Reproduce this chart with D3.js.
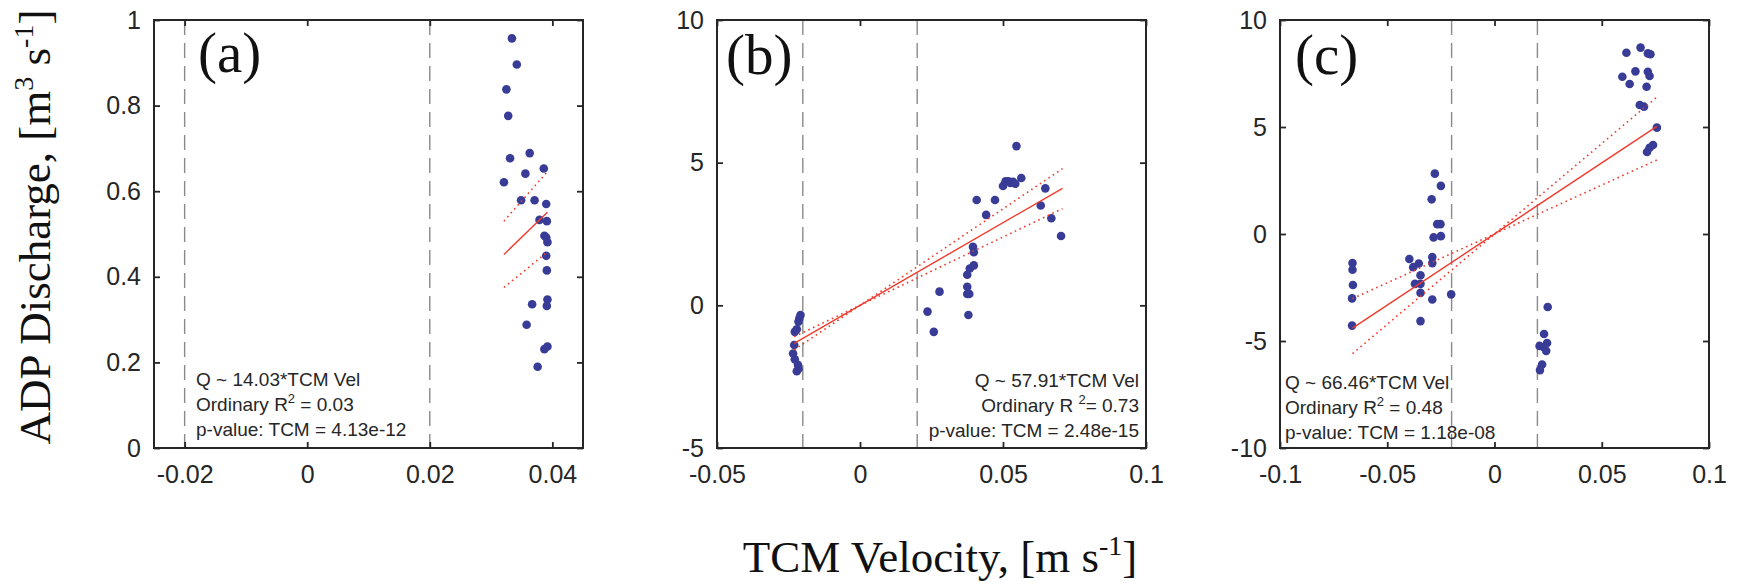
<!DOCTYPE html>
<html>
<head>
<meta charset="utf-8">
<script src="https://cdn.jsdelivr.net/npm/d3@7"></script>
<style>
  html, body { margin: 0; padding: 0; background: #ffffff; }
  svg { display: block; }
  .tick-text { font-family: "Liberation Sans", Arial, sans-serif; font-size: 25px; fill: #262626; }
  .stat-text { font-family: "Liberation Sans", Arial, sans-serif; font-size: 19px; fill: #262626; }
  .panel-label { font-family: "Liberation Serif", "Times New Roman", serif; font-size: 57px; fill: #111; }
  .axis-title { font-family: "Liberation Serif", "Times New Roman", serif; font-size: 45px; fill: #111; }
</style>
</head>
<body>
<div id="chart"></div>
<script>
// ---- data ----
const panelNames = ["(a)", "(b)", "(c)"];

const xTicksA = [-0.02, 0, 0.02, 0.04];
const yTicksA = [0, 0.2, 0.4, 0.6, 0.8, 1];
const xTicksB = [-0.05, 0, 0.05, 0.1];
const yTicksB = [-5, 0, 5, 10];
const xTicksC = [-0.1, -0.05, 0, 0.05, 0.1];
const yTicksC = [-10, -5, 0, 5, 10];

const xDomainA = [-0.025, 0.045];
const yDomainA = [0, 1];
const xDomainB = [-0.05, 0.1];
const yDomainB = [-5, 10];
const xDomainC = [-0.1, 0.1];
const yDomainC = [-10, 10];

// dashed reference velocities
const guideVelocities = [-0.02, 0.02];

// [TCM velocity, ADP discharge]
const pointsA = [
  [0.0334, 0.957], [0.0342, 0.896], [0.0325, 0.838], [0.0328, 0.776], [0.0331, 0.677],
  [0.0363, 0.689], [0.0356, 0.641], [0.0386, 0.653], [0.0321, 0.621], [0.0349, 0.579],
  [0.0371, 0.579], [0.0390, 0.570], [0.0379, 0.533], [0.0391, 0.530], [0.0387, 0.496],
  [0.0390, 0.492], [0.0392, 0.481], [0.0390, 0.449], [0.0391, 0.415], [0.0392, 0.347],
  [0.0391, 0.332], [0.0367, 0.336], [0.0358, 0.288], [0.0392, 0.237], [0.0387, 0.231],
  [0.0376, 0.190]
];

const pointsB = [
  [-0.0208, -0.34], [-0.0212, -0.45], [-0.0215, -0.57], [-0.0221, -0.84], [-0.0228, -0.93],
  [-0.0230, -1.39], [-0.0234, -1.69], [-0.0228, -1.89], [-0.0217, -2.08], [-0.0215, -2.22],
  [-0.0221, -2.31],
  [0.0236, -0.22], [0.0258, -0.93], [0.0278, 0.48], [0.0375, 1.07], [0.0375, 0.65],
  [0.0375, 0.40], [0.0382, 0.40], [0.0379, -0.34], [0.0384, 1.29], [0.0398, 1.40],
  [0.0395, 2.05], [0.0398, 1.86], [0.0408, 3.69], [0.0441, 3.17], [0.0472, 3.69],
  [0.0500, 4.18], [0.0509, 4.35], [0.0519, 4.35], [0.0526, 4.29], [0.0535, 4.33],
  [0.0543, 4.26], [0.0547, 5.58], [0.0564, 4.46], [0.0632, 3.50], [0.0648, 4.10],
  [0.0669, 3.05], [0.0703, 2.43]
];

const pointsC = [
  [-0.0662, -1.36], [-0.0662, -1.67], [-0.0660, -2.38], [-0.0664, -3.01], [-0.0664, -4.28],
  [-0.0397, -1.17], [-0.0379, -1.55], [-0.0353, -1.38], [-0.0345, -1.93], [-0.0371, -2.33],
  [-0.0345, -2.33], [-0.0345, -2.75], [-0.0345, -4.07], [-0.0290, -3.06], [-0.0290, -1.08],
  [-0.0290, -1.36], [-0.0284, -0.16], [-0.0293, 1.62], [-0.0278, 2.82], [-0.0250, 2.25],
  [-0.0267, 0.46], [-0.0252, 0.46], [-0.0250, -0.10], [-0.0202, -2.82],
  [0.0248, -3.41], [0.0231, -4.67], [0.0210, -5.23], [0.0228, -5.28], [0.0245, -5.09],
  [0.0241, -5.46], [0.0222, -6.10], [0.0212, -6.36],
  [0.0615, 8.47], [0.0681, 8.71], [0.0715, 8.44], [0.0727, 8.40], [0.0596, 7.35],
  [0.0657, 7.60], [0.0715, 7.58], [0.0723, 7.38], [0.0630, 7.01], [0.0709, 6.88],
  [0.0677, 6.03], [0.0697, 5.95], [0.0757, 4.97], [0.0739, 4.16], [0.0723, 4.03],
  [0.0711, 3.83]
];

// regression line and its confidence bounds (end points)
const fitA = [[0.0321, 0.452], [0.0392, 0.551]];
const boundsA = [[[0.0321, 0.530], [0.0392, 0.646]], [[0.0321, 0.375], [0.0392, 0.458]]];
const fitB = [[-0.0230, -1.33], [0.0708, 4.10]];
const boundsB = [[[-0.0230, -1.56], [0.0708, 4.79]], [[-0.0230, -1.10], [0.0708, 3.39]]];
const fitC = [[-0.0662, -4.40], [0.0757, 5.03]];
const boundsC = [[[-0.0662, -5.59], [0.0762, 6.44]], [[-0.0662, -3.02], [0.0757, 3.46]]];

// stats text: [equation, R² prefix, R² suffix, p-value line]
const statsA = ["Q ~ 14.03*TCM Vel", "Ordinary R", " = 0.03", "p-value: TCM = 4.13e-12"];
const statsB = ["Q ~ 57.91*TCM Vel", "Ordinary R ", "= 0.73", "p-value: TCM = 2.48e-15"];
const statsC = ["Q ~ 66.46*TCM Vel", "Ordinary R", " = 0.48", "p-value: TCM = 1.18e-08"];

// ---- layout ----
const width = 1741;
const height = 586;
const plotTop = 20;
const plotH = 428;
const plotW = 429;

const panels = [
  { name: panelNames[0], left: 154, xDomain: xDomainA, yDomain: yDomainA, xTicks: xTicksA, yTicks: yTicksA,
    points: pointsA, fit: fitA, bounds: boundsA, stats: statsA,
    labelX: 198, labelY: 72, statX: 196, statAnchor: "start", statY: 386 },
  { name: panelNames[1], left: 717, xDomain: xDomainB, yDomain: yDomainB, xTicks: xTicksB, yTicks: yTicksB,
    points: pointsB, fit: fitB, bounds: boundsB, stats: statsB,
    labelX: 726, labelY: 74, statX: 1139, statAnchor: "end", statY: 387 },
  { name: panelNames[2], left: 1280, xDomain: xDomainC, yDomain: yDomainC, xTicks: xTicksC, yTicks: yTicksC,
    points: pointsC, fit: fitC, bounds: boundsC, stats: statsC,
    labelX: 1295, labelY: 74, statX: 1285, statAnchor: "start", statY: 389 },
];

const ink = "#262626";
const dotColor = "#383c96";
const fitColor = "#f03a2c";

const tickFormat = (d) => String(+d.toFixed(4));

const svg = d3.select("#chart").append("svg").attr("width", width).attr("height", height);
svg.append("rect").attr("width", width).attr("height", height).attr("fill", "#ffffff");

function styleAxis(group) {
  group.select(".domain").remove();
  group.selectAll(".tick line").attr("stroke", ink).attr("stroke-width", 1.8);
  group.selectAll(".tick text").attr("class", "tick-text").attr("font-family", null).attr("font-size", null);
  group.attr("font-family", null).attr("font-size", null);
}

function drawPanel(p) {
  const x = d3.scaleLinear().domain(p.xDomain).range([p.left, p.left + plotW]);
  const y = d3.scaleLinear().domain(p.yDomain).range([plotTop + plotH, plotTop]);
  const g = svg.append("g");

  g.append("rect")
    .attr("x", p.left).attr("y", plotTop)
    .attr("width", plotW).attr("height", plotH)
    .attr("fill", "#ffffff");

  g.append("g")
    .selectAll("line")
    .data(guideVelocities)
    .join("line")
    .attr("x1", (d) => x(d)).attr("x2", (d) => x(d))
    .attr("y1", plotTop).attr("y2", plotTop + plotH)
    .attr("stroke", "#8a8a8a")
    .attr("stroke-width", 1.4)
    .attr("stroke-dasharray", "15 8");

  g.append("g")
    .selectAll("circle")
    .data(p.points)
    .join("circle")
    .attr("cx", (d) => x(d[0]))
    .attr("cy", (d) => y(d[1]))
    .attr("r", 4.3)
    .attr("fill", dotColor);

  const line = d3.line().x((d) => x(d[0])).y((d) => y(d[1]));

  g.append("g")
    .selectAll("path")
    .data(p.bounds)
    .join("path")
    .attr("d", line)
    .attr("fill", "none")
    .attr("stroke", fitColor)
    .attr("stroke-width", 1.6)
    .attr("stroke-dasharray", "1.6 3.6");

  g.append("path")
    .datum(p.fit)
    .attr("d", line)
    .attr("fill", "none")
    .attr("stroke", fitColor)
    .attr("stroke-width", 1.4);

  // axes with inward ticks on all four sides
  g.append("g")
    .attr("transform", `translate(0,${plotTop + plotH})`)
    .call(d3.axisBottom(x).tickValues(p.xTicks).tickSize(-6).tickPadding(17).tickFormat(tickFormat))
    .call(styleAxis);
  g.append("g")
    .attr("transform", `translate(0,${plotTop})`)
    .call(d3.axisTop(x).tickValues(p.xTicks).tickSize(-6).tickFormat(""))
    .call(styleAxis);
  g.append("g")
    .attr("transform", `translate(${p.left},0)`)
    .call(d3.axisLeft(y).tickValues(p.yTicks).tickSize(-6).tickPadding(13).tickFormat(tickFormat))
    .call(styleAxis);
  g.append("g")
    .attr("transform", `translate(${p.left + plotW},0)`)
    .call(d3.axisRight(y).tickValues(p.yTicks).tickSize(-6).tickFormat(""))
    .call(styleAxis);

  g.append("rect")
    .attr("x", p.left).attr("y", plotTop)
    .attr("width", plotW).attr("height", plotH)
    .attr("fill", "none")
    .attr("stroke", ink)
    .attr("stroke-width", 2);

  g.append("text")
    .attr("class", "panel-label")
    .attr("x", p.labelX)
    .attr("y", p.labelY)
    .text(p.name);

  const stats = g.append("g").attr("class", "stat-text").attr("text-anchor", p.statAnchor);
  stats.append("text").attr("x", p.statX).attr("y", p.statY).text(p.stats[0]);
  const r2 = stats.append("text").attr("x", p.statX).attr("y", p.statY + 25);
  r2.append("tspan").text(p.stats[1]);
  r2.append("tspan").attr("font-size", 13).attr("dy", -8).text("2");
  r2.append("tspan").attr("dy", 8).text(p.stats[2]);
  stats.append("text").attr("x", p.statX).attr("y", p.statY + 50).text(p.stats[3]);
}

panels.forEach(drawPanel);

// shared axis titles
const yTitle = svg.append("text")
  .attr("class", "axis-title")
  .attr("text-anchor", "middle")
  .attr("transform", "translate(50,227) rotate(-90)");
yTitle.append("tspan").text("ADP Discharge, [m");
yTitle.append("tspan").attr("font-size", 28).attr("dy", -17).text("3");
yTitle.append("tspan").attr("dy", 17).text(" s");
yTitle.append("tspan").attr("font-size", 28).attr("dy", -17).text("-1");
yTitle.append("tspan").attr("dy", 17).text("]");

const xTitle = svg.append("text")
  .attr("class", "axis-title")
  .attr("text-anchor", "middle")
  .attr("x", 940)
  .attr("y", 572);
xTitle.append("tspan").text("TCM Velocity, [m s");
xTitle.append("tspan").attr("font-size", 28).attr("dy", -17).text("-1");
xTitle.append("tspan").attr("dy", 17).text("]");
</script>
</body>
</html>
